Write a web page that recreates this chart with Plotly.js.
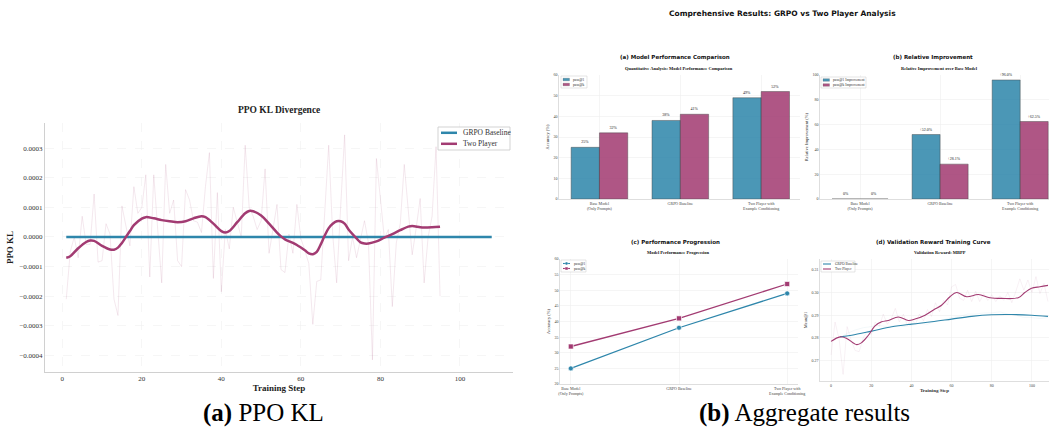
<!DOCTYPE html>
<html><head><meta charset="utf-8">
<script src="https://cdn.plot.ly/plotly-3.0.1.min.js"></script>
<style>html,body{margin:0;padding:0;background:#fff;}#chart{width:1049px;height:431px;}</style>
</head><body><div id="chart"></div>
<script>
// ---------------- DATA ----------------
// (a) PPO KL divergence
const klRawSteps = [1,2,3,4,5,6,7,8,9,10,11,12,13,14,15,16,17,18,19,20,21,22,23,24,25,26,27,28,29,30,31,32,33,34,35,36,37,38,39,40,41,42,43,44,45,46,47,48,49,50,51,52,53,54,55,56,57,58,59,60,61,62,63,64,65,66,67,68,69,70,71,72,73,74,75,76,77,78,79,80,81,82,83,84,85,86,87,88,89,90,91,92,93,94,95];
const klRawTwoPlayer = [-2.1e-4,-0.5e-4,0.0,-0.7e-4,0.7e-4,-0.25e-4,-0.25e-4,1.45e-4,-0.85e-4,-0.8e-4,0.45e-4,0.1e-4,-2.1e-4,-2.65e-4,1.05e-4,0.35e-4,-0.3e-4,1.7e-4,0.8e-4,1.0e-4,2.1e-4,-1.35e-4,2.1e-4,0.25e-4,-1.55e-4,2.45e-4,0.8e-4,1.25e-4,-0.8e-4,-1.0e-4,1.6e-4,1.25e-4,0.55e-4,0.5e-4,0.15e-4,1.7e-4,2.85e-4,-1.4e-4,1.5e-4,-1.85e-4,0.25e-4,-0.4e-4,1.0e-4,0.5e-4,0.0,3.1e-4,1.0e-4,0.7e-4,0.25e-4,0.55e-4,2.3e-4,-0.55e-4,0.25e-4,1.1e-4,-1.1e-4,-1.2e-4,0.1e-4,-0.55e-4,1.1e-4,-0.05e-4,-0.45e-4,-0.9e-4,-2.95e-4,-1.5e-4,-1.45e-4,0.9e-4,3.1e-4,0.1e-4,-1.55e-4,1.0e-4,3.45e-4,-0.8e-4,0.0,-0.7e-4,-0.1e-4,0.55e-4,-0.2e-4,-4.15e-4,2.65e-4,1.25e-4,-0.05e-4,0.25e-4,-2.35e-4,-0.2e-4,0.45e-4,2.45e-4,1.0e-4,-0.6e-4,0.3e-4,1.3e-4,-1.55e-4,0.0,0.7e-4,3.05e-4,-2.0e-4];
const klSmoothSteps = [1,2,4,6,7,8,10,12,13,14,15,16,17,18,20,21,23,25,27,29,31,33,35,36,38,40,41,42,44,46,47,48,50,52,54,55,56,58,59,61,62,63,64,65,66,67,68,69,70,71,72,74,75,76,77,79,81,83,85,87,88,90,91,93,95];
const klSmoothTwoPlayer = [-0.70e-4,-0.65e-4,-0.38e-4,-0.17e-4,-0.12e-4,-0.13e-4,-0.30e-4,-0.42e-4,-0.43e-4,-0.36e-4,-0.20e-4,0.00,0.20e-4,0.40e-4,0.62e-4,0.67e-4,0.63e-4,0.57e-4,0.53e-4,0.50e-4,0.53e-4,0.63e-4,0.70e-4,0.67e-4,0.45e-4,0.20e-4,0.15e-4,0.20e-4,0.50e-4,0.80e-4,0.88e-4,0.87e-4,0.73e-4,0.45e-4,0.15e-4,0.02e-4,-0.08e-4,-0.20e-4,-0.27e-4,-0.45e-4,-0.55e-4,-0.58e-4,-0.50e-4,-0.25e-4,0.05e-4,0.30e-4,0.45e-4,0.53e-4,0.53e-4,0.45e-4,0.25e-4,-0.05e-4,-0.18e-4,-0.22e-4,-0.22e-4,-0.15e-4,-0.02e-4,0.10e-4,0.23e-4,0.35e-4,0.37e-4,0.33e-4,0.32e-4,0.33e-4,0.35e-4];
const klBaselineSteps = [1,108];
const klBaseline = [0,0];

// (b) aggregate results
const categories = ["Base Model<br>(Only Prompts)","GRPO Baseline","Two Player with<br>Example Conditioning"];
const passAt1 = [25,38,49];
const passAtK = [32,41,52];

// validation reward (MBPP)
const valTwoSmoothSteps = [0,4.5,7.8,12.8,15.3,18.6,21.9,25.2,28.5,33.5,38.5,41.8,46.8,51.7,55,59.2,62.5,67.5,73.3,79.1,84.9,93.2,96.5,99.8,104,108];
const valTwoSmooth = [0.2785,0.2805,0.2798,0.2771,0.2780,0.2812,0.2853,0.2871,0.2877,0.2892,0.2877,0.2883,0.2900,0.2927,0.2944,0.2981,0.3000,0.2981,0.2991,0.2977,0.2974,0.2977,0.3000,0.3018,0.3025,0.3031];
const valBaseSmoothSteps = [4.5,10.3,20.2,30.2,40.1,50.1,60,70,79.9,89.9,99.8,108];
const valBaseSmooth = [0.2805,0.2812,0.2830,0.2849,0.2861,0.2871,0.2883,0.2895,0.2902,0.2903,0.2900,0.2895];
const valTwoRawSteps = [0,2,4,6,8,10,12,14,16,18,20,22,24,26,28,30,32,34,36,38,40,42,44,46,48,50,52,54,56,58,60,62,64,66,68,70,72,74,76,78,80,82,84,86,88,90,92,94,96,98,100,102,104,106,108];
const valTwoRaw = [0.2725,0.2870,0.2795,0.2640,0.2850,0.2790,0.2745,0.2740,0.2800,0.2830,0.2815,0.2870,0.2850,0.2905,0.2860,0.2885,0.2930,0.2870,0.2905,0.2855,0.2885,0.2860,0.2905,0.2875,0.2925,0.2895,0.2955,0.2915,0.2965,0.2945,0.3025,0.3035,0.2975,0.2965,0.3010,0.2960,0.3005,0.2960,0.2995,0.2965,0.2990,0.2960,0.2985,0.2965,0.3000,0.2955,0.3005,0.3060,0.3010,0.3055,0.3000,0.3070,0.2995,0.3040,0.2960];
const valBaseRawSteps = [4,8,12,16,20,24,28,32,36,40,44,48,52,56,60,64,68,72,76,80,84,88,92,96,100,104,108];
const valBaseRaw = [0.2800,0.2820,0.2835,0.2845,0.2850,0.2855,0.2850,0.2855,0.2850,0.2855,0.2865,0.2860,0.2875,0.2880,0.2890,0.2895,0.2905,0.2905,0.2910,0.2910,0.2915,0.2905,0.2900,0.2890,0.2890,0.2885,0.2890];

// ---------------- STYLE ----------------
const BLUE = '#2E86AB', MAG = '#A23B72';
const SERIF = 'Liberation Serif';
const SANS = 'DejaVu Sans';
const W = 1049, H = 431;
const px = x => x / W, py = y => 1 - y / H;

const improvement = (arr) => arr.map(v => (v - arr[0]) / arr[0] * 100);
const imp1 = improvement(passAt1), impK = improvement(passAtK);
const impLabel = v => v === 0 ? '0%' : '+' + v.toFixed(1) + '%';

const barLine = {color:'rgba(40,40,40,0.55)', width:0.8};
const barText = {family:SERIF, size:4, color:'#222'};
const traces = [
  // PPO KL
  {x: klRawSteps, y: klRawTwoPlayer, xaxis:'x', yaxis:'y', mode:'lines', line:{color:'rgba(162,59,114,0.15)', width:0.8}, hoverinfo:'skip'},
  {x: klBaselineSteps, y: klBaseline, xaxis:'x', yaxis:'y', mode:'lines', name:'GRPO Baseline', line:{color:BLUE, width:2.5}},
  {x: klSmoothSteps, y: klSmoothTwoPlayer, xaxis:'x', yaxis:'y', mode:'lines', name:'Two Player', line:{color:MAG, width:2.5, shape:'spline', smoothing:1}},
  // bars accuracy
  {type:'bar', name:'pass@1', x: categories, y: passAt1, xaxis:'x2', yaxis:'y2', width:0.35, offset:-0.35, marker:{color:BLUE, opacity:0.86, line:barLine},
   text: passAt1.map(v => v + '%'), textposition:'outside', textfont:barText, cliponaxis:false},
  {type:'bar', name:'pass@k', x: categories, y: passAtK, xaxis:'x2', yaxis:'y2', width:0.35, offset:0, marker:{color:MAG, opacity:0.86, line:barLine},
   text: passAtK.map(v => v + '%'), textposition:'outside', textfont:barText, cliponaxis:false},
  // bars improvement
  {type:'bar', name:'pass@1 Improvement', x: categories, y: imp1, xaxis:'x3', yaxis:'y3', width:0.35, offset:-0.35, marker:{color:BLUE, opacity:0.86, line:barLine},
   text: imp1.map(impLabel), textposition:'outside', textfont:barText, cliponaxis:false},
  {type:'bar', name:'pass@k Improvement', x: categories, y: impK, xaxis:'x3', yaxis:'y3', width:0.35, offset:0, marker:{color:MAG, opacity:0.86, line:barLine},
   text: impK.map(impLabel), textposition:'outside', textfont:barText, cliponaxis:false},
  // progression
  {name:'pass@1', x: categories, y: passAt1, xaxis:'x4', yaxis:'y4', mode:'lines+markers', line:{color:BLUE, width:1.3}, marker:{symbol:'circle', size:5, color:BLUE, line:{color:'rgba(255,255,255,0.8)', width:0.8}}},
  {name:'pass@k', x: categories, y: passAtK, xaxis:'x4', yaxis:'y4', mode:'lines+markers', line:{color:MAG, width:1.3}, marker:{symbol:'square', size:5, color:MAG, line:{color:'rgba(255,255,255,0.8)', width:0.8}}},
  // validation reward
  {x: valTwoRawSteps, y: valTwoRaw, xaxis:'x5', yaxis:'y5', mode:'lines', line:{color:'rgba(162,59,114,0.12)', width:0.6}},
  {x: valBaseRawSteps, y: valBaseRaw, xaxis:'x5', yaxis:'y5', mode:'lines', line:{color:'rgba(46,134,171,0.10)', width:0.6}},
  {name:'GRPO Baseline', x: valBaseSmoothSteps, y: valBaseSmooth, xaxis:'x5', yaxis:'y5', mode:'lines', line:{color:BLUE, width:1.1, shape:'spline', smoothing:1}},
  {name:'Two Player', x: valTwoSmoothSteps, y: valTwoSmooth, xaxis:'x5', yaxis:'y5', mode:'lines', line:{color:MAG, width:1.1, shape:'spline', smoothing:1}}
];

const smallTick = {family:SERIF, size:4, color:'#444'};
function smallAx(extra){
  return Object.assign({showline:true, linecolor:'#d6d6d6', linewidth:0.8, mirror:false, showgrid:true, gridcolor:'#efefef', gridwidth:0.6,
    zeroline:false, ticks:'', tickfont:smallTick, automargin:false, fixedrange:true}, extra);
}
const klTick = {family:SERIF, size:7, color:'#333'};

const layout = {
  width:W, height:H, margin:{l:0,r:0,t:0,b:0}, paper_bgcolor:'#fff', plot_bgcolor:'#fff',
  barmode:'overlay', showlegend:false,
  xaxis:{domain:[px(45),px(513)], anchor:'y', range:[-4.35,113.35], tickvals:[0,20,40,60,80,100], showline:true, linecolor:'#d0d0d0', linewidth:1,
    showgrid:true, gridcolor:'#f0f0f0', griddash:'dash', gridwidth:0.6, zeroline:false, ticks:'', tickfont:klTick,
    title:{text:'<b>Training Step</b>', font:{family:SERIF, size:9, color:'#222'}, standoff:1}, automargin:false},
  yaxis:{domain:[py(372),py(123)], anchor:'x', range:[-4.56e-4,3.85e-4], dtick:1e-4, tickformat:'.4f', showline:true, linecolor:'#d0d0d0', linewidth:1,
    showgrid:true, gridcolor:'#f0f0f0', griddash:'dash', gridwidth:0.6, zeroline:false, ticks:'', tickfont:klTick,
    title:{text:'<b>PPO KL</b>', font:{family:SERIF, size:9, color:'#222'}, standoff:4}, automargin:false},
  xaxis2: smallAx({domain:[px(559),px(800)], anchor:'y2', type:'category', range:[-0.5,2.48]}),
  yaxis2: smallAx({domain:[py(199),py(75)], anchor:'x2', range:[0,60], dtick:10, title:{text:'Accuracy (%)', font:{family:SERIF, size:4.5, color:'#333'}, standoff:3}}),
  xaxis3: smallAx({domain:[px(820),px(1049)], anchor:'y3', type:'category', range:[-0.5,2.36]}),
  yaxis3: smallAx({domain:[py(199),py(75)], anchor:'x3', range:[0,100], dtick:20, title:{text:'Relative Improvement (%)', font:{family:SERIF, size:4.5, color:'#333'}, standoff:3}}),
  xaxis4: smallAx({domain:[px(560),px(798)], anchor:'y4', type:'category', range:[-0.1,2.1]}),
  yaxis4: smallAx({domain:[py(384),py(259)], anchor:'x4', range:[20,60], dtick:5, title:{text:'Accuracy (%)', font:{family:SERIF, size:4.5, color:'#333'}, standoff:3}}),
  xaxis5: smallAx({domain:[px(820),px(1049)], anchor:'y5', range:[-5.5,108.5], tickvals:[0,20,40,60,80,100], title:{text:'<b>Training Step</b>', font:{family:SERIF, size:5, color:'#333'}, standoff:1}}),
  yaxis5: smallAx({domain:[py(381),py(259)], anchor:'x5', range:[0.2611,0.3147], tickvals:[0.27,0.28,0.29,0.30,0.31], tickformat:'.2f', title:{text:'Mean@1', font:{family:SERIF, size:4.5, color:'#333'}, standoff:3}}),
  shapes:[], annotations:[]
};

function ann(text, x, y, size, family, extra){
  layout.annotations.push(Object.assign({text, x:px(x), y:py(y), xref:'paper', yref:'paper', showarrow:false,
    xanchor:'center', yanchor:'middle', font:{family, size, color:'#111'}}, extra||{}));
}
// titles
ann('<b>Comprehensive Results: GRPO vs Two Player Analysis</b>', 782, 13, 7.5, SANS);
ann('<b>PPO KL Divergence</b>', 279, 110, 9.5, SERIF, {font:{family:SERIF, size:9.5, color:'#222'}});
ann('<b>(a) Model Performance Comparison</b>', 675, 57, 5.5, SANS);
ann('<b>Quantitative Analysis: Model Performance Comparison</b>', 679, 68, 4.5, SERIF);
ann('<b>(b) Relative Improvement</b>', 933, 57, 5.5, SANS);
ann('<b>Relative Improvement over Base Model</b>', 939, 68, 4.5, SERIF);
ann('<b>(c) Performance Progression</b>', 675, 242, 5.5, SANS);
ann('<b>Model Performance Progression</b>', 678, 252, 4.5, SERIF);
ann('<b>(d) Validation Reward Training Curve</b>', 933, 242, 5.5, SANS);
ann('<b>Validation Reward: MBPP</b>', 940, 252, 4.5, SERIF);
// captions
ann('<b>(a)</b> PPO KL', 263, 413, 25, SERIF, {font:{family:SERIF, size:25, color:'#000'}});
ann('<b>(b)</b> Aggregate results', 804, 413, 25, SERIF, {font:{family:SERIF, size:25, color:'#000'}});

// legends (drawn as boxes, swatches and text)
function legendBox(x0,y0,x1,y1,lw){
  layout.shapes.push({type:'rect', xref:'paper', yref:'paper', x0:px(x0), x1:px(x1), y0:py(y1), y1:py(y0), fillcolor:'rgba(255,255,255,0.9)', line:{color:'#c8c8c8', width:lw||0.5}});
}
function swatchRect(x,y,color){
  layout.shapes.push({type:'rect', xref:'paper', yref:'paper', x0:px(x), x1:px(x+6.5), y0:py(y+1.3), y1:py(y-1.3), fillcolor:color, opacity:0.86, line:{color:'rgba(40,40,40,0.5)', width:0.4}});
}
function swatchLine(x,y,color,len,w){
  layout.shapes.push({type:'line', xref:'paper', yref:'paper', x0:px(x), x1:px(x+len), y0:py(y), y1:py(y), line:{color, width:w||1.1}});
}
function swatchMarker(x,y,color,kind){
  layout.shapes.push({type:kind==='circle'?'circle':'rect', xref:'paper', yref:'paper', x0:px(x-1.4), x1:px(x+1.4), y0:py(y+1.4), y1:py(y-1.4), fillcolor:color, line:{color:'#fff', width:0.3}});
}
function legendText(t,x,y,size){ ann(t, x, y, size||3.6, SERIF, {xanchor:'left', font:{family:SERIF, size:size||3.6, color:'#333'}}); }

// PPO KL legend
legendBox(438,127,510,150,0.8);
swatchLine(441,132.8,BLUE,16,2.5); swatchLine(441,143.8,MAG,16,2.5);
legendText(traces[1].name,461,132.8,7.5); legendText(traces[2].name,461,143.8,7.5);
// (a) bars legend
legendBox(561,76,587,88); swatchRect(563,79.5,BLUE); swatchRect(563,84.5,MAG);
legendText(traces[3].name,571,79.5); legendText(traces[4].name,571,84.5);
// (b) bars legend
legendBox(821,77,866,88); swatchRect(823,80,BLUE); swatchRect(823,85,MAG);
legendText(traces[5].name,831,80); legendText(traces[6].name,831,85);
// (c) legend
legendBox(561,260,586,272); swatchLine(563,263.5,BLUE,7); swatchMarker(566.5,263.5,BLUE,'circle'); swatchLine(563,268.5,MAG,7); swatchMarker(566.5,268.5,MAG,'square');
legendText(traces[7].name,572,263.5); legendText(traces[8].name,572,268.5);
// (d) legend
legendBox(821,261,855,272); swatchLine(823,264,BLUE,8); swatchLine(823,269,MAG,8);
legendText(traces[11].name,833,264); legendText(traces[12].name,833,269);

Plotly.newPlot('chart', traces, layout, {staticPlot:true, displayModeBar:false});
</script>
</body></html>
